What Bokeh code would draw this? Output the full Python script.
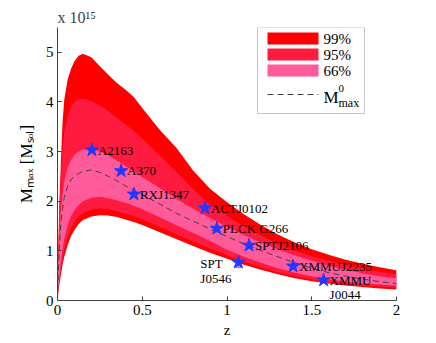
from bokeh.plotting import figure
from bokeh.models import (ColumnDataSource, Range1d, Whisker, TeeHead, Label,
                          BoxAnnotation, Arrow, FixedTicker)
from bokeh.core.properties import value
from bokeh.embed import file_html
from bokeh.resources import INLINE

# ---------------- data ----------------
z_grid = [0.0, 0.005, 0.01, 0.02, 0.03, 0.04, 0.06, 0.08, 0.1, 0.125, 0.15, 0.2, 0.25,
          0.3, 0.35, 0.4, 0.45, 0.5, 0.6, 0.7, 0.8, 0.9, 1.0, 1.1, 1.2, 1.3, 1.4, 1.5,
          1.6, 1.7, 1.8, 1.9, 2.0]
upper_99 = [0.0, 1.1, 1.9, 2.8, 3.6, 4.05, 4.45, 4.67, 4.82, 4.93, 4.97, 4.9, 4.72,
            4.55, 4.38, 4.25, 4.1, 3.88, 3.45, 3.08, 2.62, 2.25, 1.98, 1.74, 1.52, 1.33,
            1.17, 1.03, 0.92, 0.82, 0.74, 0.67, 0.61]
upper_95 = [0.0, 1.0, 1.65, 2.45, 3.04, 3.4, 3.72, 3.9, 4.0, 4.05, 4.07, 4.02, 3.93,
            3.82, 3.68, 3.55, 3.42, 3.26, 2.93, 2.6, 2.24, 1.93, 1.7, 1.49, 1.31, 1.14,
            1.0, 0.89, 0.8, 0.71, 0.64, 0.58, 0.53]
upper_66 = [0.0, 0.75, 1.2, 1.8, 2.15, 2.4, 2.68, 2.83, 2.93, 3.0, 3.04, 3.05, 3.0,
            2.92, 2.82, 2.71, 2.6, 2.49, 2.27, 2.05, 1.85, 1.66, 1.48, 1.32, 1.17, 1.03,
            0.91, 0.8, 0.7, 0.62, 0.55, 0.49, 0.45]
m0_max = [0.0, 0.6, 1.0, 1.55, 1.85, 2.08, 2.3, 2.43, 2.51, 2.56, 2.6, 2.63, 2.58,
          2.5, 2.41, 2.31, 2.22, 2.13, 1.95, 1.76, 1.6, 1.44, 1.29, 1.14, 1.01, 0.88,
          0.76, 0.65, 0.56, 0.49, 0.43, 0.38, 0.34]
lower_66 = [0.0, 0.25, 0.45, 0.78, 1.04, 1.24, 1.52, 1.7, 1.82, 1.93, 2.0, 2.07, 2.09,
            2.06, 2.02, 1.97, 1.91, 1.84, 1.68, 1.52, 1.36, 1.2, 1.02, 0.88, 0.76, 0.65,
            0.56, 0.49, 0.43, 0.38, 0.35, 0.32, 0.3]
lower_95 = [0.0, 0.2, 0.36, 0.62, 0.85, 1.02, 1.28, 1.46, 1.58, 1.69, 1.76, 1.83, 1.86,
            1.84, 1.8, 1.75, 1.7, 1.63, 1.49, 1.34, 1.19, 1.05, 0.91, 0.78, 0.67, 0.57,
            0.49, 0.43, 0.37, 0.33, 0.3, 0.28, 0.26]
lower_99 = [0.0, 0.17, 0.3, 0.52, 0.72, 0.88, 1.12, 1.3, 1.42, 1.54, 1.62, 1.69, 1.72,
            1.71, 1.68, 1.63, 1.58, 1.52, 1.38, 1.24, 1.1, 0.96, 0.84, 0.72, 0.62, 0.53,
            0.45, 0.39, 0.34, 0.3, 0.27, 0.24, 0.22]

cluster_names = ["A2163", "A370", "RXJ1347", "ACTJ0102", "PLCK G266", "SPTJ2106",
                 "SPT J0546", "XMMUJ2235", "XMMU J0044"]
cluster_z = [0.203, 0.375, 0.451, 0.87, 0.94, 1.13, 1.067, 1.39, 1.57]
cluster_m = [3.03, 2.61, 2.14, 1.86, 1.45, 1.11, 0.77, 0.69, 0.41]
cluster_hi = [3.91, 2.91, 2.74, 2.27, 1.71, 1.35, 0.88, 0.80, 0.47]
cluster_lo = [2.37, 2.25, 1.66, 1.53, 1.26, 0.90, 0.67, 0.60, 0.36]

# label texts and which cluster they belong to
label_text = ["A2163", "A370", "RXJ1347", "ACTJ0102", "PLCK G266", "SPTJ2106",
              "SPT", "J0546", "XMMUJ2235", "XMMU", "J0044"]
label_of = [0, 1, 2, 3, 4, 5, 6, 6, 7, 8, 8]

x_ticks = [0, 0.5, 1, 1.5, 2]
y_ticks = [0, 1, 2, 3, 4, 5]
legend_labels = ["99%", "95%", "66%"]
x_title = "z"
y_title = "M\u2098\u2090\u2093 [M\u209b\u2092\u2097]"
scale_note = "x 10\u00b9\u2075"

# ---------------- style / layout ----------------
FONT = "Liberation Serif"
C99, C95, C66 = "#FF0000", "#FF1A40", "#FF5A9A"
STAR = "#2436FF"
ERR = "#7058D8"
AX = "#404040"
label_dx = [6, 6, 6, 6, 6, 6, -38, -38, 6, 6, 6]
label_dy = [0, 0, 0, 0, 0, 0, 1, 16, 0, 0, 14]

p = figure(width=424, height=340, x_range=Range1d(0, 2), y_range=Range1d(0, 5.5),
           output_backend="svg", toolbar_location=None,
           min_border_left=57, min_border_right=28, min_border_top=27,
           min_border_bottom=36)
p.outline_line_color = None
p.grid.visible = False
p.background_fill_color = "white"

p.title.text = scale_note
p.title.align = "left"
p.title.text_font = FONT
p.title.text_font_size = "16px"
p.title.text_font_style = "normal"
p.title.standoff = 4

band = ColumnDataSource(dict(z=z_grid, u99=upper_99, l99=lower_99, u95=upper_95,
                             l95=lower_95, u66=upper_66, l66=lower_66, m0=m0_max))
p.varea(x="z", y1="l99", y2="u99", source=band, fill_color=C99)
p.varea(x="z", y1="l95", y2="u95", source=band, fill_color=C95)
p.varea(x="z", y1="l66", y2="u66", source=band, fill_color=C66)
p.line(x="z", y="m0", source=band, line_color=AX, line_dash="6 4", line_width=1)

cl = ColumnDataSource(dict(z=cluster_z, m=cluster_m, hi=cluster_hi, lo=cluster_lo))
p.add_layout(Whisker(source=cl, base="z", upper="hi", lower="lo", dimension="height",
                     line_color=ERR, line_width=1,
                     upper_head=TeeHead(size=6, line_color=ERR, line_width=1),
                     lower_head=TeeHead(size=6, line_color=ERR, line_width=1)))
p.scatter(x="z", y="m", source=cl, marker="star", size=14, fill_color=STAR,
          line_color=STAR)

lab = ColumnDataSource(dict(x=[cluster_z[i] for i in label_of],
                            y=[cluster_m[i] for i in label_of],
                            t=label_text, dx=label_dx, dy=label_dy))
p.text(x="x", y="y", text="t", source=lab, x_offset="dx", y_offset="dy",
       text_font=value(FONT), text_font_size="13px", text_baseline="middle",
       text_align="left", text_color="black")

# axes
for ax in (p.xaxis[0], p.yaxis[0]):
    ax.axis_line_color = AX
    ax.major_tick_line_color = AX
    ax.major_tick_in = 4
    ax.major_tick_out = 0
    ax.minor_tick_line_color = None
    ax.major_label_text_font = FONT
    ax.major_label_text_font_size = "15px"
    ax.major_label_text_color = "black"
    ax.major_label_standoff = 4
    ax.axis_label_text_font = FONT
    ax.axis_label_text_font_style = "normal"
    ax.axis_label_text_color = "black"
p.xaxis.ticker = FixedTicker(ticks=x_ticks)
p.yaxis.ticker = FixedTicker(ticks=y_ticks)
p.xaxis.axis_label = x_title
p.xaxis.axis_label_text_font_size = "15px"
p.xaxis.axis_label_standoff = 4
p.yaxis.axis_label = y_title
p.yaxis.axis_label_text_font_size = "17px"
p.yaxis.axis_label_standoff = 7


def lbl(text, x, y, size, base="alphabetic"):
    p.add_layout(Label(x=x, y=y, x_units="screen", y_units="screen", text=text,
                       text_font=FONT, text_font_size=size, text_align="left",
                       text_baseline=base, text_color="black"))


# legend (inside the frame, frame-relative pixels)
p.add_layout(BoxAnnotation(left=200, right=307, bottom=187, top=273,
                           left_units="screen", right_units="screen",
                           bottom_units="screen", top_units="screen",
                           fill_color="white", fill_alpha=1, line_color=AX,
                           line_width=1))
for i, (c, t) in enumerate(zip([C99, C95, C66], legend_labels)):
    top = 268 - 16 * i
    p.add_layout(BoxAnnotation(left=210, right=261, bottom=top - 12, top=top,
                               left_units="screen", right_units="screen",
                               bottom_units="screen", top_units="screen",
                               fill_color=c, fill_alpha=1, line_color=None))
    lbl(t, 266, top - 6, "15px", base="middle")
p.add_layout(Arrow(x_start=210, y_start=206, x_end=261, y_end=206,
                   start_units="screen", end_units="screen", start=None, end=None,
                   line_color=AX, line_dash="6 4", line_width=1))
lbl("M", 266, 203, "17px")
lbl("0", 281, 212, "11px")
lbl("max", 281, 198, "12px")

open("out.html", "w").write(file_html(p, INLINE))
